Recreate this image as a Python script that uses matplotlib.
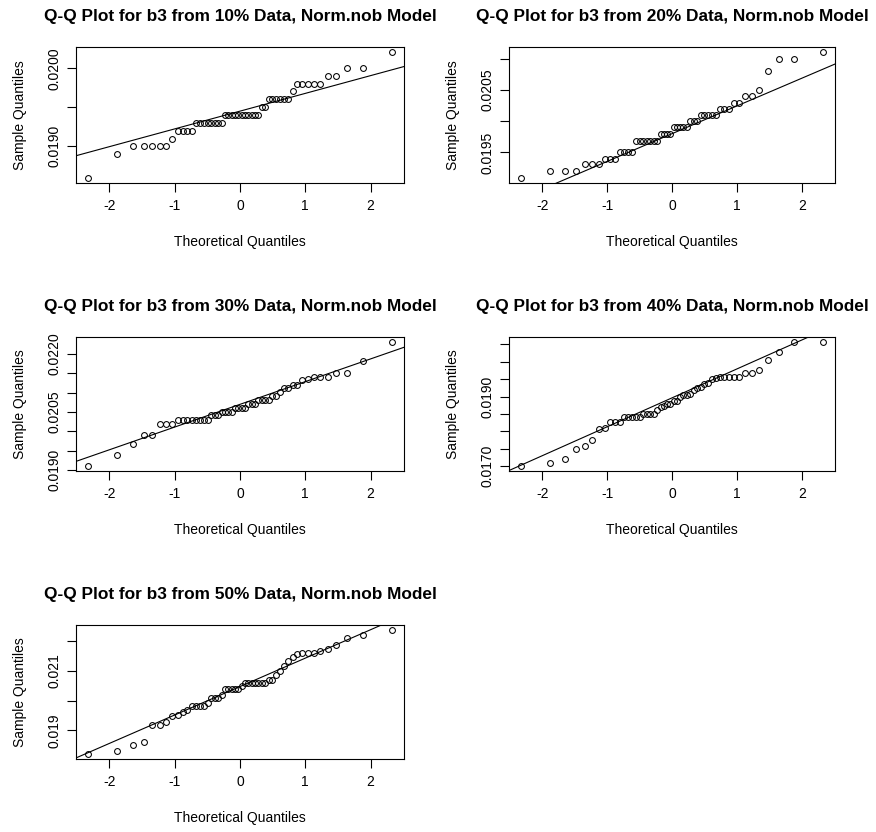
import numpy as np
import matplotlib
matplotlib.use("Agg")
import matplotlib.pyplot as plt
from statistics import NormalDist

plt.rcParams['font.family'] = ['Liberation Sans', 'DejaVu Sans']

titles = [
    "Q-Q Plot for b3 from 10% Data, Norm.nob Model",
    "Q-Q Plot for b3 from 20% Data, Norm.nob Model",
    "Q-Q Plot for b3 from 30% Data, Norm.nob Model",
    "Q-Q Plot for b3 from 40% Data, Norm.nob Model",
    "Q-Q Plot for b3 from 50% Data, Norm.nob Model",
]

b3_10 = [0.01858, 0.01889, 0.0190, 0.0190, 0.0190, 0.0190, 0.0190, 0.01908,
         0.01919, 0.01919, 0.01919, 0.01919,
         0.01929, 0.01929, 0.01929, 0.01929, 0.01929, 0.01929, 0.01929, 0.01929,
         0.0194, 0.0194, 0.0194, 0.0194, 0.0194, 0.0194, 0.0194, 0.0194, 0.0194, 0.0194, 0.0194,
         0.0195, 0.0195,
         0.0196, 0.0196, 0.0196, 0.0196, 0.0196, 0.0196,
         0.0197,
         0.01979, 0.01979, 0.01979, 0.01979, 0.01979,
         0.0199, 0.0199, 0.0200, 0.0200, 0.02021]

b3_20 = [0.01909, 0.0192, 0.0192, 0.0192, 0.01931, 0.01931, 0.01931,
         0.01939, 0.01939, 0.01939,
         0.0195, 0.0195, 0.0195, 0.0195,
         0.01969, 0.01969, 0.01969, 0.01969, 0.01969, 0.01969, 0.01969,
         0.0198, 0.0198, 0.0198, 0.0198,
         0.0199, 0.0199, 0.0199, 0.0199, 0.0199,
         0.0200, 0.0200, 0.0200,
         0.0201, 0.0201, 0.0201, 0.0201, 0.0201,
         0.0202, 0.0202, 0.0202,
         0.0203, 0.0203, 0.0204, 0.0204, 0.0205,
         0.02081, 0.0210, 0.0210, 0.02111]

b3_30 = [0.0191, 0.01939, 0.01968, 0.01991, 0.01991,
         0.0202, 0.0202, 0.0202,
         0.0203, 0.0203, 0.0203, 0.0203, 0.0203, 0.0203, 0.0203, 0.0203,
         0.02042, 0.02042, 0.02042,
         0.0205, 0.0205, 0.0205, 0.0205,
         0.0206, 0.0206, 0.0206, 0.0206,
         0.0207, 0.0207, 0.0207,
         0.0208, 0.0208, 0.0208, 0.0208,
         0.0209, 0.0209,
         0.02101, 0.02112, 0.02112, 0.0212, 0.0212,
         0.02132, 0.02136, 0.0214, 0.0214, 0.0214,
         0.0215, 0.0215, 0.02182, 0.02231]

b3_40 = [0.0170, 0.0171, 0.0172, 0.01749, 0.01759, 0.01776, 0.01809, 0.01806,
         0.01826, 0.01826, 0.01826,
         0.0184, 0.0184, 0.0184, 0.0184, 0.0184,
         0.0185, 0.0185, 0.0185, 0.0185,
         0.0186, 0.01871, 0.01874, 0.01878, 0.01878, 0.01886, 0.01888,
         0.0190, 0.01903, 0.01905, 0.01908, 0.01918, 0.01924, 0.01927,
         0.01937, 0.0194, 0.0195, 0.01953,
         0.01956, 0.01956, 0.01956, 0.01956, 0.01956,
         0.01968, 0.01968, 0.01976, 0.02006, 0.02027, 0.02057, 0.02057]

b3_50 = [0.01821, 0.0183, 0.01852, 0.01861, 0.0192, 0.01918, 0.01927,
         0.01952, 0.0195, 0.01969, 0.01963,
         0.01983, 0.01983, 0.01981, 0.01983, 0.01991,
         0.02008, 0.02008, 0.02008, 0.0202,
         0.0204, 0.0204, 0.0204, 0.0204, 0.0204,
         0.0205, 0.02059, 0.02059, 0.02059, 0.02059, 0.02059, 0.02059, 0.02059,
         0.0207, 0.0207, 0.02087, 0.02101, 0.02115, 0.02132, 0.02146,
         0.02158, 0.02159, 0.02159, 0.02159, 0.02168, 0.02172, 0.02186,
         0.02209, 0.02219, 0.02237]

samples = [b3_10, b3_20, b3_30, b3_40, b3_50]

yticks = [
    [0.0190, 0.0195, 0.0200],
    [0.0195, 0.0200, 0.0205, 0.0210],
    [0.0190, 0.0195, 0.0200, 0.0205, 0.0210, 0.0215, 0.0220],
    [0.0170, 0.0175, 0.0180, 0.0185, 0.0190, 0.0195, 0.0200, 0.0205],
    [0.019, 0.020, 0.021, 0.022],
]
ylabels_shown = [
    [0.0190, 0.0200],
    [0.0195, 0.0205],
    [0.0190, 0.0205, 0.0220],
    [0.0170, 0.0190],
    [0.019, 0.021],
]
yfmt = ["%.4f", "%.4f", "%.4f", "%.4f", "%.3f"]
xticks = [-2, -1, 0, 1, 2]

W, H = 876, 832
fig = plt.figure(figsize=(W / 100, H / 100), dpi=100)

# axes boxes in pixels: left, top, right, bottom
boxes = [
    (76, 47, 404, 183),
    (509, 47, 835, 183),
    (76, 337, 404, 471),
    (509, 337, 835, 471),
    (76, 625, 404, 759),
]

nd = NormalDist()

for k, (data, title) in enumerate(zip(samples, titles)):
    l, t, r, b = boxes[k]
    ax = fig.add_axes([l / W, 1 - b / H, (r - l) / W, (b - t) / H])
    y = np.sort(np.array(data))
    n = len(y)
    p = (np.arange(1, n + 1) - 0.5) / n
    x = np.array([nd.inv_cdf(v) for v in p])
    ax.plot(x, y, linestyle='none', marker='o', markersize=4.2,
            markerfacecolor='none', markeredgecolor='black', markeredgewidth=0.75)
    # qqline through quartiles
    q1, q3 = np.quantile(y, [0.25, 0.75])
    t1, t3 = nd.inv_cdf(0.25), nd.inv_cdf(0.75)
    slope = (q3 - q1) / (t3 - t1)
    inter = q1 - slope * t1
    xl = np.array([-5, 5])
    ax.plot(xl, inter + slope * xl, color='black', lw=0.8)
    xr = x.max() - x.min()
    ax.set_xlim(x.min() - 0.04 * xr, x.max() + 0.04 * xr)
    yr = y.max() - y.min()
    ax.set_ylim(y.min() - 0.04 * yr, y.max() + 0.04 * yr)

    ax.set_xticks(xticks)
    ax.set_xticklabels([str(v) for v in xticks])
    ax.set_yticks(yticks[k])
    ax.set_yticklabels([(yfmt[k] % v) if any(abs(v - s) < 1e-9 for s in ylabels_shown[k]) else ""
                        for v in yticks[k]], rotation=90, va='center')
    ax.tick_params(direction='out', length=6.5, width=0.8, labelsize=10, pad=4)
    ax.tick_params(axis='x', pad=5)
    for s in ax.spines.values():
        s.set_linewidth(0.8)

    ax.set_xlabel("Theoretical Quantiles", fontsize=10)
    ax.xaxis.set_label_coords(0.5, -59 / (b - t))
    ax.xaxis.label.set_verticalalignment('center')
    ax.set_ylabel("Sample Quantiles", fontsize=10)
    ax.yaxis.set_label_coords(-56 / (r - l), 0.5)
    ax.yaxis.label.set_verticalalignment('center')
    ax.set_title(title, fontsize=12.4, fontweight='bold', y=1 + 31 / (b - t), pad=0, va='center')

fig.savefig("out.png", dpi=100)
